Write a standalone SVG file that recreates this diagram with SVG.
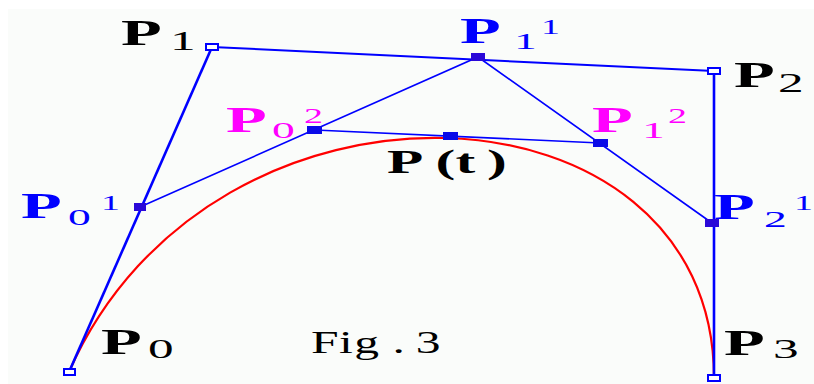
<svg xmlns="http://www.w3.org/2000/svg" width="814" height="384" viewBox="0 0 814 384">
<style>
.bg{fill:#fafcfa}
.poly{fill:none;stroke:#0000ff;stroke-linejoin:miter}
.thick{stroke-width:2.6}
.thin{stroke-width:2}
.mid{stroke:#0000ff;stroke-width:1.6;fill:none}
.curve{fill:none;stroke:#ff0000;stroke-width:2.2}
.hollow{fill:#ffffff;stroke:#0000ff;stroke-width:2}
.fill1{fill:#2a08d8}
.fill2{fill:#0a0ae8}
.P{font-family:"Liberation Serif","Times New Roman",serif;font-weight:bold;font-size:36px}
.d{font-family:"Liberation Serif","Times New Roman",serif;font-weight:normal}
.big{font-size:27px}
.sub{font-size:24px}
.sup{font-size:20px}
.k{fill:#000000}
.b{fill:#0000ff}
.m{fill:#ff00ff}
</style>
<rect class="bg" x="8" y="9" width="806" height="375"/>
<g id="connectors">
<path class="curve" d="M69 372 C212 47 714 71 714 378"/>
<path class="poly thick" d="M69 372 L212 47"/>
<path class="poly thin" d="M212 47 L714 71"/>
<path class="poly thick" d="M714 71 L714 378"/>
<path class="mid" d="M140 207 L478 57 L712 223"/>
<path class="mid" d="M315 130 L600 143"/>
</g>
<g id="P0"><rect class="hollow" x="64" y="369" width="11" height="6"/>
<text class="P k" transform="translate(101 354) scale(1.85 1)">P</text>
<text class="d big k" transform="translate(148 358) scale(1.9 1)">0</text></g>
<g id="P1"><rect class="hollow" x="206" y="44" width="12" height="6"/>
<text class="P k" transform="translate(121 45) scale(1.85 1)">P</text>
<text class="d big k" transform="translate(170 50) scale(1.9 1)">1</text></g>
<g id="P2"><rect class="hollow" x="708" y="68" width="12" height="6"/>
<text class="P k" transform="translate(734 87) scale(1.85 1)">P</text>
<text class="d big k" transform="translate(778 92) scale(1.9 1)">2</text></g>
<g id="P3"><rect class="hollow" x="708" y="375" width="12" height="6"/>
<text class="P k" transform="translate(724 355) scale(1.85 1)">P</text>
<text class="d big k" transform="translate(773 358) scale(1.9 1)">3</text></g>
<g id="P01"><rect class="fill1" x="134" y="203" width="12" height="8"/>
<text class="P b" transform="translate(21 218) scale(1.85 1)">P</text>
<text class="d sub b" transform="translate(68 225) scale(1.9 1)">0</text>
<text class="d sup b" transform="translate(101 210) scale(1.9 1)">1</text></g>
<g id="P11"><rect class="fill1" x="471" y="53" width="14" height="8"/>
<text class="P b" transform="translate(460 43) scale(1.85 1)">P</text>
<text class="d sub b" transform="translate(514 49) scale(1.9 1)">1</text>
<text class="d sup b" transform="translate(541 34) scale(1.9 1)">1</text></g>
<g id="P21"><rect class="fill1" x="705" y="219" width="14" height="8"/>
<text class="P b" transform="translate(714 219) scale(1.85 1)">P</text>
<text class="d sub b" transform="translate(764 227) scale(1.9 1)">2</text>
<text class="d sup b" transform="translate(794 210) scale(1.9 1)">1</text></g>
<g id="P02"><rect class="fill2" x="307" y="126" width="15" height="8"/>
<text class="P m" transform="translate(226 132) scale(1.85 1)">P</text>
<text class="d sub m" transform="translate(272 138) scale(1.9 1)">0</text>
<text class="d sup m" transform="translate(304 123) scale(1.9 1)">2</text></g>
<g id="P12"><rect class="fill2" x="593" y="139" width="15" height="8"/>
<text class="P m" transform="translate(592 132) scale(1.85 1)">P</text>
<text class="d sub m" transform="translate(642 138) scale(1.9 1)">1</text>
<text class="d sup m" transform="translate(668 123) scale(1.9 1)">2</text></g>
<g id="Pt"><rect class="fill2" x="443" y="132" width="15" height="8"/>
<text class="P k" style="font-size:33px" transform="translate(387 173) scale(1.8 1)"><tspan x="0">P</tspan><tspan x="27">(</tspan><tspan x="38">t</tspan><tspan x="55.5">)</tspan></text></g>
<g id="caption">
<text class="d k" style="font-size:31px" transform="translate(311 353) scale(1.6 1)"><tspan x="0">F</tspan><tspan x="17.5">i</tspan><tspan x="27">g</tspan><tspan x="51">.</tspan><tspan x="65.5">3</tspan></text></g>
</svg>
